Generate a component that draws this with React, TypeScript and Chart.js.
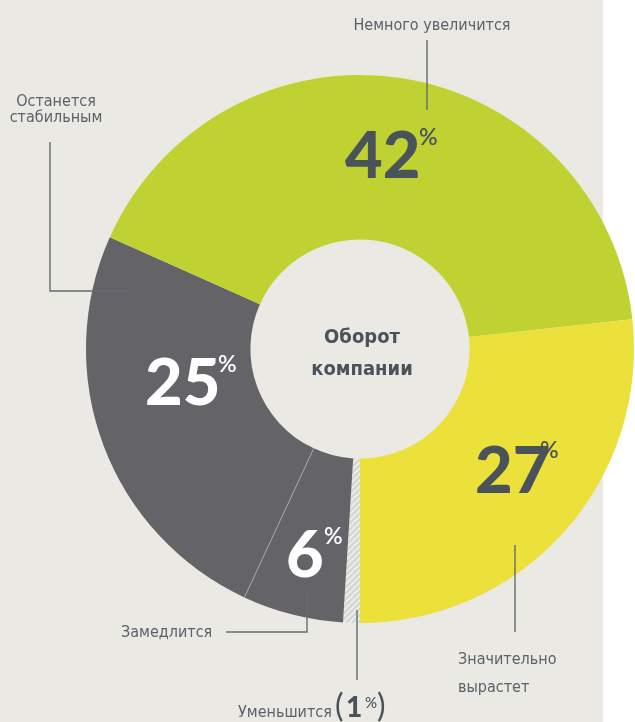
import React, { useEffect, useRef } from "react";
import { Chart, registerables } from "chart.js";

Chart.register(...registerables);

// ---- data ----
const categories = [
  "Уменьшится",
  "Замедлится",
  "Останется стабильным",
  "Немного увеличится",
  "Значительно вырастет",
];
const values = [1, 6, 25, 42, 27];
const valueLabels = ["1", "6", "25", "42", "27"];
const centerTitle = ["Оборот", "компании"];

const BG = "#eae9e4";
const GRAY = "#646368";
const GREEN = "#c0d232";
const YELLOW = "#ece03b";
const DARK = "#4a535a";
const LABEL = "#5b6267";
const LINE = "#646b70";

const NARROW = '"Liberation Sans Narrow", "DejaVu Sans Condensed", Roboto, sans-serif';
const BIG = 'Lato, "Open Sans", sans-serif';

function makeHatch(): CanvasPattern | string {
  const c = document.createElement("canvas");
  c.width = 6;
  c.height = 6;
  const g = c.getContext("2d");
  if (!g) return "#d9d9d5";
  g.fillStyle = "#d6d6d2";
  g.fillRect(0, 0, 6, 6);
  g.strokeStyle = "#efefec";
  g.lineWidth = 1.6;
  g.beginPath();
  g.moveTo(-1, 7);
  g.lineTo(7, -1);
  g.moveTo(-4, 4);
  g.lineTo(4, -4);
  g.moveTo(2, 10);
  g.lineTo(10, 2);
  g.stroke();
  return g.createPattern(c, "repeat") || "#d9d9d5";
}

const labelsPlugin = {
  id: "infoLabels",
  afterDatasetsDraw(chart: any) {
    const ctx: CanvasRenderingContext2D = chart.ctx;
    const meta = chart.getDatasetMeta(0);
    const first: any = meta.data[0];
    const cx = first.x;
    const cy = first.y;
    const P = (x: number, y: number): [number, number] => [cx + (x - 360), cy + (y - 349)];

    ctx.save();
    // separator between 6% and 25%
    const sep: any = meta.data[1];
    const ang = sep.endAngle;
    ctx.strokeStyle = "rgba(200,200,200,0.55)";
    ctx.lineWidth = 1;
    ctx.beginPath();
    ctx.moveTo(cx + Math.cos(ang) * sep.innerRadius, cy + Math.sin(ang) * sep.innerRadius);
    ctx.lineTo(cx + Math.cos(ang) * sep.outerRadius, cy + Math.sin(ang) * sep.outerRadius);
    ctx.stroke();

    // big numbers
    const nums: { i: number; x: number; y: number; px: number; py: number; color: string }[] = [
      { i: 3, x: 345, y: 178, px: 419, py: 128, color: DARK },
      { i: 2, x: 145, y: 405, px: 218, py: 355, color: "#ffffff" },
      { i: 1, x: 286, y: 577, px: 324, py: 527, color: "#ffffff" },
      { i: 4, x: 475, y: 493, px: 540, py: 441, color: DARK },
    ];
    for (const n of nums) {
      ctx.fillStyle = n.color;
      ctx.font = `900 65px ${BIG}`;
      ctx.textAlign = "left";
      ctx.textBaseline = "alphabetic";
      const [x, y] = P(n.x, n.y);
      ctx.fillText(valueLabels[n.i], x, y);
      ctx.font = `600 23px ${BIG}`;
      ctx.textBaseline = "top";
      const [px, py] = P(n.px, n.py);
      ctx.fillText("%", px, py - 2);
    }

    // center title
    ctx.fillStyle = DARK;
    ctx.font = `bold 20px ${NARROW}`;
    ctx.textAlign = "center";
    ctx.textBaseline = "alphabetic";
    let [tx, ty] = P(362, 343);
    ctx.fillText(centerTitle[0], tx, ty);
    [tx, ty] = P(362, 375);
    ctx.fillText(centerTitle[1], tx, ty);

    // leader lines
    ctx.strokeStyle = LINE;
    ctx.lineWidth = 1.4;
    const lines: [number, number][][] = [
      [[427, 40], [427, 110]],
      [[50, 142], [50, 291], [133, 291]],
      [[226, 632], [307, 632], [307, 588]],
      [[357, 610], [357, 680]],
      [[515, 545], [515, 632]],
    ];
    for (const pts of lines) {
      ctx.beginPath();
      pts.forEach((p, k) => {
        const [x, y] = P(p[0], p[1]);
        if (k === 0) ctx.moveTo(x, y);
        else ctx.lineTo(x, y);
      });
      ctx.stroke();
    }

    // category labels
    ctx.fillStyle = LABEL;
    ctx.font = `16px ${NARROW}`;
    ctx.textAlign = "center";
    let q = P(432, 30);
    ctx.fillText(categories[3], q[0], q[1]);
    const stable = categories[2].split(" ");
    q = P(56, 106);
    ctx.fillText(stable[0], q[0], q[1]);
    q = P(56, 122);
    ctx.fillText(stable[1], q[0], q[1]);
    ctx.textAlign = "left";
    q = P(121, 637);
    ctx.fillText(categories[1], q[0], q[1]);
    const big = categories[4].split(" ");
    q = P(458, 664);
    ctx.fillText(big[0], q[0], q[1]);
    q = P(458, 692);
    ctx.fillText(big[1], q[0], q[1]);
    q = P(238, 717);
    ctx.fillText(categories[0], q[0], q[1]);

    // (1%)
    ctx.fillStyle = DARK;
    ctx.font = `normal 32px ${BIG}`;
    q = P(335, 717);
    ctx.fillText("(", q[0], q[1]);
    ctx.font = `900 28px ${BIG}`;
    q = P(346, 717);
    ctx.fillText(valueLabels[0], q[0], q[1]);
    ctx.font = `500 15px ${BIG}`;
    q = P(365, 708);
    ctx.fillText("%", q[0], q[1]);
    ctx.font = `normal 32px ${BIG}`;
    q = P(377, 717);
    ctx.fillText(")", q[0], q[1]);

    ctx.restore();
  },
};

export default function App() {
  const ref = useRef<HTMLCanvasElement | null>(null);
  useEffect(() => {
    if (!ref.current) return;
    const hatch = makeHatch();
    const chart = new Chart(ref.current, {
      type: "doughnut",
      data: {
        labels: categories,
        datasets: [
          {
            data: values,
            backgroundColor: [hatch as any, GRAY, GRAY, GREEN, YELLOW],
            borderWidth: 0,
          },
        ],
      },
      options: {
        animation: false,
        responsive: false,
        rotation: 180,
        cutout: "40%",
        layout: { padding: { left: 86, top: 75, right: 1, bottom: 99 } },
        plugins: { legend: { display: false }, tooltip: { enabled: false } },
        events: [],
      },
      plugins: [labelsPlugin],
    });
    return () => chart.destroy();
  }, []);
  return (
    <div style={{ position: "absolute", left: 0, top: 0, width: 635, height: 722, background: "#ffffff", overflow: "hidden" }}>
      <div style={{ position: "absolute", left: 0, top: 0, width: 603, height: 722, background: BG }} />
      <canvas ref={ref} width={635} height={722} style={{ position: "absolute", left: 0, top: 0, width: 635, height: 722 }} />
    </div>
  );
}
